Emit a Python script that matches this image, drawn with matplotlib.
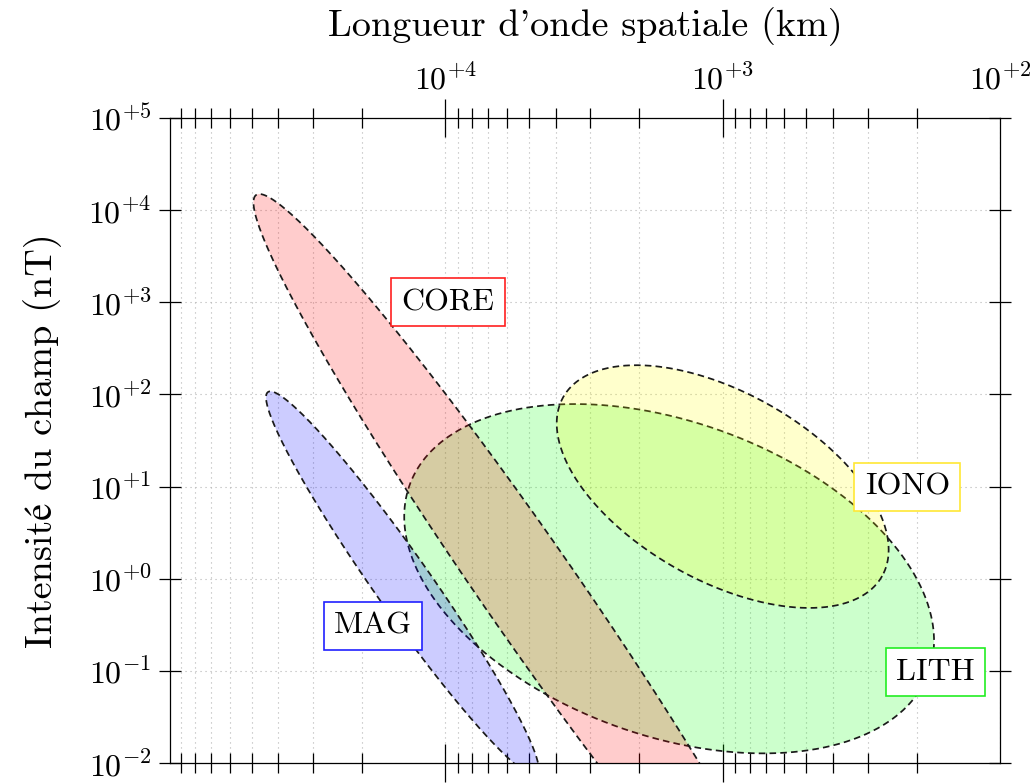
import numpy as np
import matplotlib
matplotlib.use('Agg')
import matplotlib.pyplot as plt
from matplotlib.ticker import FixedLocator, LogLocator, NullLocator, NullFormatter

plt.rcParams['font.family'] = ['cmr10', 'STIXGeneral']
plt.rcParams['mathtext.fontset'] = 'cm'
plt.rcParams['axes.unicode_minus'] = False

# ---- data (log-space ellipses: centre, semi-axis vectors in decades) ----
regions = ['LITH', 'IONO', 'CORE', 'MAG']
center_km = [1560, 1000, 4980, 14280]
center_nT = [1.0, 10.0, 0.773, 0.887]
major_dec = [(-0.936, -1.015), (-0.575, -0.971), (-0.985, -4.277), (-0.485, -2.078)]
minor_dec = [(0.191, -1.601), (0.166, -0.890), (0.139, -0.291), (0.0826, -0.175)]
label_km = [171, 216, 9800, 18240]
label_nT = [0.097, 10.0, 1000, 0.31]

xticks_km = [1e4, 1e3, 1e2]
xtick_labels = [r'$10^{+4}$', r'$10^{+3}$', r'$10^{+2}$']
yticks_nT = [1e-2, 1e-1, 1e0, 1e1, 1e2, 1e3, 1e4, 1e5]
ytick_labels = [r'$10^{-2}$', r'$10^{-1}$', r'$10^{+0}$', r'$10^{+1}$',
                r'$10^{+2}$', r'$10^{+3}$', r'$10^{+4}$', r'$10^{+5}$']

# ---- styles ----
fill_colors = ['#00ff00', '#ffff00', '#ff0000', '#0000ff']
box_colors = ['#22ee22', '#ffe835', '#ff2020', '#2020ff']

fig = plt.figure(figsize=(10.34, 7.83), dpi=100)
ax = fig.add_axes([170 / 1034, 20 / 783, 830 / 1034, 645 / 783])
ax.set_xscale('log')
ax.set_yscale('log')
ax.set_xlim(10 ** 4.993, 1e2)
ax.set_ylim(1e-2, 1e5)

t = np.linspace(0, 2 * np.pi, 721)
for i, name in enumerate(regions):
    lx = np.log10(center_km[i]) + major_dec[i][0] * np.cos(t) + minor_dec[i][0] * np.sin(t)
    ly = np.log10(center_nT[i]) + major_dec[i][1] * np.cos(t) + minor_dec[i][1] * np.sin(t)
    x, y = 10 ** lx, 10 ** ly
    ax.fill(x, y, color=fill_colors[i], alpha=0.2, lw=0, zorder=2 + i)
    ax.plot(x, y, color='#1a1a1a', lw=1.25, linestyle=(0, (3.8, 2.4)), zorder=2 + i)

for i, name in enumerate(regions):
    ax.text(label_km[i], label_nT[i], name, ha='center', va='center', fontsize=23,
            bbox=dict(boxstyle='square,pad=0.32', fc='white', ec=box_colors[i], lw=1.2),
            zorder=10)

# ticks
ax.xaxis.set_major_locator(FixedLocator(xticks_km))
ax.set_xticklabels(xtick_labels)
ax.xaxis.set_minor_locator(LogLocator(base=10, subs=np.arange(2, 10)))
ax.xaxis.set_minor_formatter(NullFormatter())
ax.yaxis.set_major_locator(FixedLocator(yticks_nT))
ax.set_yticklabels(ytick_labels)
ax.yaxis.set_minor_locator(NullLocator())

ax.tick_params(which='both', direction='inout', top=True, bottom=True, left=True, right=True,
               labeltop=True, labelbottom=False, colors='black', width=0.9)
ax.tick_params(axis='x', which='major', length=27, labelsize=23, pad=3)
ax.tick_params(axis='x', which='minor', length=14)
ax.tick_params(axis='y', which='major', length=16.5, labelsize=23, pad=5)
for tk in ax.xaxis.get_major_ticks()[-1:]:
    tk.tick1line.set_visible(False)
    tk.tick2line.set_visible(False)

for s in ax.spines.values():
    s.set_linewidth(0.9)

ax.grid(True, which='major', axis='both', color='#b4b4b4', linestyle=(0, (1, 3.5)), lw=0.8, zorder=0)
ax.grid(True, which='minor', axis='x', color='#b4b4b4', linestyle=(0, (1, 3.5)), lw=0.8, zorder=0)
ax.set_axisbelow(True)

ax.xaxis.set_label_position('top')
ax.set_xlabel("Longueur d'onde spatiale (km)", fontsize=27.5, labelpad=20)
ax.set_ylabel("Intensité du champ (nT)", fontsize=27.5, labelpad=19)

fig.savefig('out.png', dpi=100)
